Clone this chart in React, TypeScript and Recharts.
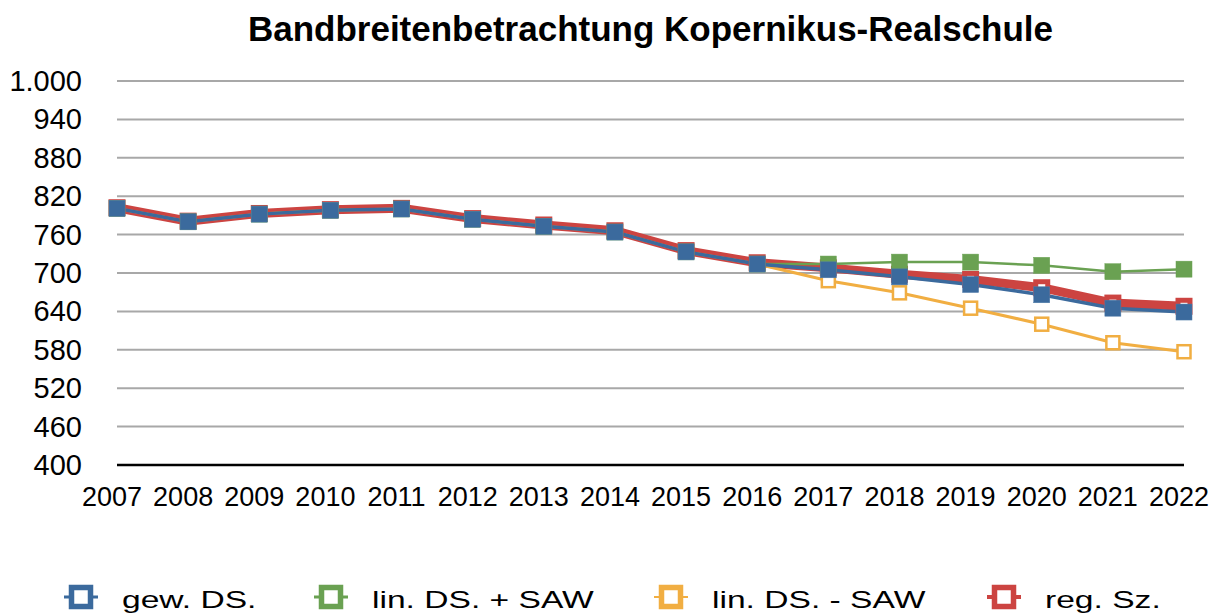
import React from 'react';
import { LineChart, Line, XAxis, YAxis, CartesianGrid, Legend } from 'recharts';

const years = ['2007','2008','2009','2010','2011','2012','2013','2014','2015','2016','2017','2018','2019','2020','2021','2022'];
const gewDS = [801,780,792,798,800,784,773,764,733,714,705,694,682,666,645,639];
const linPlusSAW = [801,780,792,798,800,784,773,764,733,714,714,717,717,712,702,706];
const linMinusSAW = [801,780,792,798,800,784,773,764,733,714,688,669,645,620,591,577];
const regSz = [802,781,793,799,801,785,775,766,735,716,708,698,690,677,653,648];
const yTicks = [400,460,520,580,640,700,760,820,880,940,1000];

const BLUE = '#3B6A9D';
const GREEN = '#6AA152';
const ORANGE = '#F1AE42';
const RED = '#CC4441';
const FONT = '"Liberation Sans", Arial, Helvetica, sans-serif';

const data = years.map((y, i) => ({
  year: y,
  gew: gewDS[i],
  plus: linPlusSAW[i],
  minus: linMinusSAW[i],
  reg: regSz[i],
}));

const fmt = (v: number) => (v >= 1000 ? `${Math.floor(v / 1000)}.${String(v % 1000).padStart(3, '0')}` : String(v));

const squareDot = (size: number, fill: string, stroke: string, sw: number) => (props: any) => {
  const { cx, cy, index } = props;
  if (cx == null || cy == null) return <g key={`n${index}`} />;
  return (
    <rect key={`d${index}`} x={cx - size / 2} y={cy - size / 2} width={size} height={size} fill={fill} stroke={stroke} strokeWidth={sw} />
  );
};

const YTick = (props: any) => {
  const { y, payload } = props;
  return (
    <text x={82} y={y} textAnchor="end" dominantBaseline="central" fontSize={29} fill="#000" fontFamily={FONT}>
      {fmt(payload.value)}
    </text>
  );
};

const XTick = (props: any) => {
  const { x, payload } = props;
  return (
    <text x={x - 5} y={497} textAnchor="middle" dominantBaseline="central" fontSize={27} fill="#000" fontFamily={FONT}>
      {payload.value}
    </text>
  );
};

const legendItems = [
  { label: 'gew. DS.', color: BLUE, icon: 81, text: 122, lw: 3 },
  { label: 'lin. DS. + SAW', color: GREEN, icon: 331, text: 372, lw: 3 },
  { label: 'lin. DS. - SAW', color: ORANGE, icon: 671, text: 712, lw: 2 },
  { label: 'reg. Sz.', color: RED, icon: 1004, text: 1045, lw: 4 },
];

const LegendContent = () => (
  <svg width={1215} height={40} style={{ display: 'block', overflow: 'visible' }}>
    {legendItems.map((it) => (
      <g key={it.label}>
        <line x1={it.icon - 17} x2={it.icon + 17} y1={22} y2={22} stroke={it.color} strokeWidth={it.lw} />
        <rect x={it.icon - 9.5} y={12.5} width={19} height={19} fill="#fff" stroke={it.color} strokeWidth={5.5} />
        <text transform={`translate(${it.text},33) scale(1.4,1)`} fontSize={24} fontFamily={FONT} fill="#000">{it.label}</text>
      </g>
    ))}
  </svg>
);

export default function App() {
  return (
    <div style={{ position: 'absolute', left: 0, top: 0, width: 1215, height: 614, background: '#fff', overflow: 'hidden' }}>
      <div style={{ position: 'absolute', left: 117, width: 1067, top: 9, textAlign: 'center', fontFamily: FONT, fontWeight: 'bold', fontSize: 35, color: '#000', whiteSpace: 'nowrap' }}>
        Bandbreitenbetrachtung Kopernikus-Realschule
      </div>
      <LineChart width={1215} height={614} data={data} margin={{ top: 81, right: 31, bottom: 89, left: 0 }}>
        <CartesianGrid vertical={false} stroke="#A8A8A8" strokeWidth={2} />
        <XAxis dataKey="year" axisLine={{ stroke: '#000', strokeWidth: 2.5 }} tickLine={false} tick={<XTick />} height={60} interval={0} />
        <YAxis domain={[400, 1000]} ticks={yTicks} axisLine={false} tickLine={false} tick={<YTick />} width={117} interval={0} />
        <Legend verticalAlign="middle" layout="horizontal" content={<LegendContent />} wrapperStyle={{ top: 575, left: 0, width: 1215 }} />
        <Line dataKey="reg" name="reg. Sz." stroke={RED} strokeWidth={9} dot={squareDot(12, '#fff', RED, 5)} isAnimationActive={false} />
        <Line dataKey="minus" name="lin. DS. - SAW" stroke={ORANGE} strokeWidth={3} dot={squareDot(13, '#fff', ORANGE, 2.5)} isAnimationActive={false} />
        <Line dataKey="plus" name="lin. DS. + SAW" stroke={GREEN} strokeWidth={2.5} dot={squareDot(16, GREEN, GREEN, 0.5)} isAnimationActive={false} />
        <Line dataKey="gew" name="gew. DS." stroke={BLUE} strokeWidth={3.5} dot={squareDot(16, BLUE, '#4F7BA8', 0.5)} isAnimationActive={false} />
      </LineChart>
    </div>
  );
}
